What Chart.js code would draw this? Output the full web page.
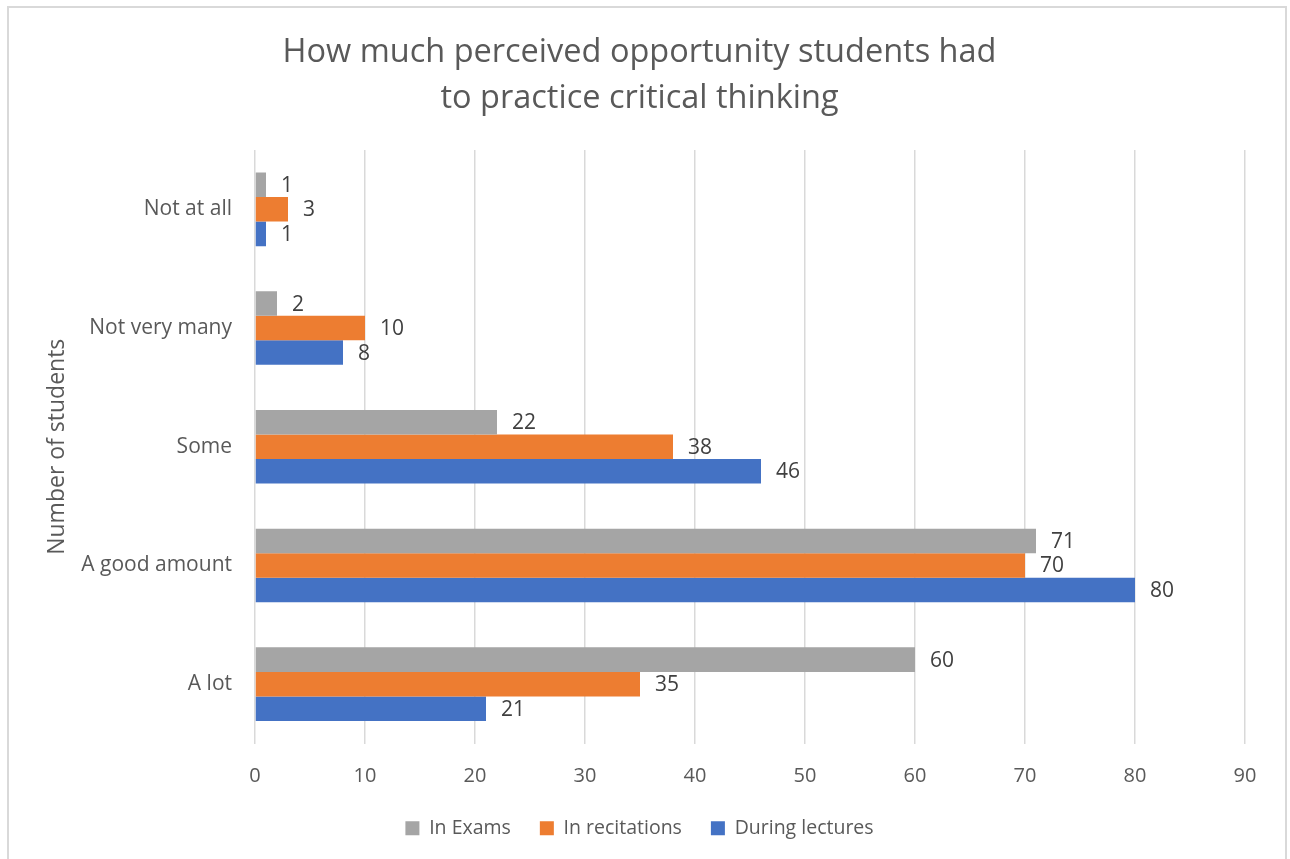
<!DOCTYPE html>
<html>
<head>
<meta charset="utf-8">
<script src="https://cdn.jsdelivr.net/npm/chart.js@4"></script>
<style>
  html, body { margin: 0; padding: 0; background: #fff; overflow: hidden; }
  #frame {
    position: absolute; left: 7px; top: 6px; width: 1280px; height: 1000px;
    border: 2px solid #d9d9d9; box-sizing: border-box; pointer-events: none;
  }
  #chart { position: absolute; left: 0; top: 0; display: block; }
</style>
</head>
<body>
<div id="frame"></div>
<canvas id="chart" width="1290" height="900"></canvas>
<script>
// categorie (dall'alto in basso) e valori delle serie
const categorie = ["Not at all", "Not very many", "Some", "A good amount", "A lot"];
const inExams = [1, 2, 22, 71, 60];
const inRecitations = [3, 10, 38, 70, 35];
const duringLectures = [1, 8, 46, 80, 21];
const xTicks = [0, 10, 20, 30, 40, 50, 60, 70, 80, 90];

Chart.defaults.font.family = "'Open Sans', sans-serif";
Chart.defaults.color = "#595959";

// etichette dei valori a destra di ogni barra
const etichette = {
  id: "etichette",
  afterDatasetsDraw(chart) {
    const ctx = chart.ctx;
    ctx.save();
    ctx.font = "21px 'Open Sans', sans-serif";
    ctx.fillStyle = "#404040";
    ctx.textAlign = "left";
    ctx.textBaseline = "middle";
    chart.data.datasets.forEach((ds, i) => {
      chart.getDatasetMeta(i).data.forEach((bar, j) => {
        ctx.fillText(String(ds.data[j]), bar.x + 15, bar.y + 1);
      });
    });
    ctx.restore();
  }
};

new Chart(document.getElementById("chart"), {
  type: "bar",
  data: {
    labels: categorie,
    datasets: [
      { label: "In Exams", data: inExams, backgroundColor: "#A5A5A5" },
      { label: "In recitations", data: inRecitations, backgroundColor: "#ED7D31" },
      { label: "During lectures", data: duringLectures, backgroundColor: "#4472C4" }
    ]
  },
  options: {
    indexAxis: "y",
    responsive: false,
    animation: false,
    categoryPercentage: 0.62,
    barPercentage: 1,
    layout: { padding: { left: 34, right: 45, top: 0, bottom: 52 } },
    scales: {
      x: {
        min: 0,
        max: 90,
        afterBuildTicks(scale) { scale.ticks = xTicks.map(v => ({ value: v })); },
        afterFit(scale) { scale.height = 46; },
        grid: { color: "#d9d9d9", lineWidth: 1.5, drawTicks: false },
        border: { display: false },
        ticks: { padding: 21, font: { size: 20 }, color: "#595959" }
      },
      y: {
        afterFit(scale) { scale.width = 221; },
        grid: { display: false, drawTicks: false },
        border: { display: false },
        ticks: { padding: 23, font: { size: 21 }, color: "#595959" },
        title: {
          display: true,
          text: "Number of students",
          font: { size: 23 },
          color: "#595959",
          padding: { top: 10, bottom: 0 }
        }
      }
    },
    plugins: {
      title: {
        display: true,
        text: ["How much perceived opportunity students had", "to practice critical thinking"],
        font: { size: 32.5, weight: "normal", lineHeight: 46 / 32.5 },
        color: "#595959",
        padding: { top: 30, bottom: 28 }
      },
      legend: {
        position: "bottom",
        labels: {
          boxWidth: 14,
          boxHeight: 14,
          padding: 29,
          font: { size: 19.5 },
          color: "#595959"
        }
      },
      tooltip: { enabled: false }
    }
  },
  plugins: [etichette]
});
</script>
</body>
</html>
